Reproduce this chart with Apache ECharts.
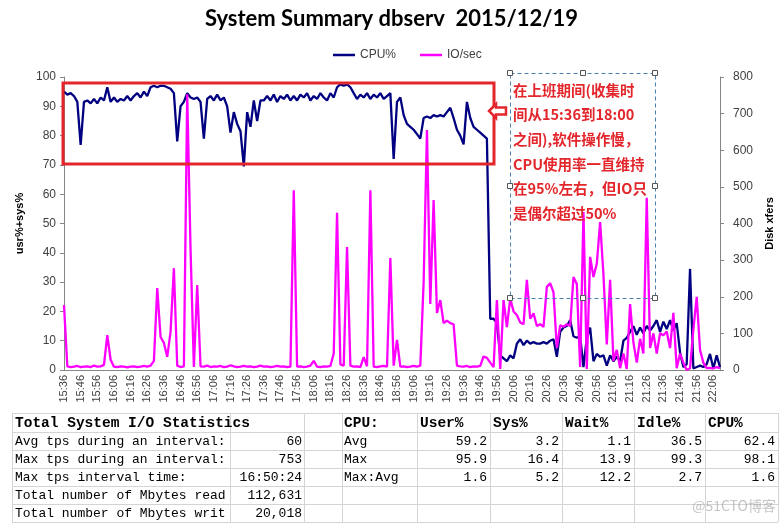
<!DOCTYPE html>
<html><head><meta charset="utf-8">
<script src="https://cdn.jsdelivr.net/npm/echarts@6/dist/echarts.min.js"></script>
<style>html,body{margin:0;padding:0;background:#fff}#c{width:783px;height:523px}</style>
</head><body><div id="c"></div>
<script>
// ---- data (one sample every 2 minutes from 15:36) ----
const startMinute = 15 * 60 + 36;
const stepMinutes = 2;
const cpu = [
  95, 94, 94.5, 93.5, 91.5, 76.8, 91.5, 92, 91, 92.5,
  91, 93, 92, 96.5, 91.5, 93, 91.5, 92.5, 92, 93.5,
  92, 93.5, 94.5, 93, 95, 93.5, 96.5, 97, 96.5, 97,
  97, 96.5, 96, 94.5, 78, 90, 91.5, 94.5, 93, 92.5,
  93, 91.5, 79, 92.5, 93.5, 92, 94, 92, 93, 90,
  81, 88, 84, 81.5, 69.5, 88, 83, 92, 85, 92,
  92, 93.5, 92, 94, 91.5, 93.5, 92.5, 94, 92, 93.5,
  92, 94, 93, 94.5, 92, 93.5, 92.5, 94.5, 93, 92,
  94.5, 93, 96.5, 97.5, 97, 97.5, 96.5, 94.5, 92.5, 94,
  93, 94.5, 92.5, 94, 93, 94.5, 92.5, 93.5, 94.5, 72,
  91.5, 93, 87, 84, 83, 82, 80.5, 79, 86, 86.5,
  86, 87, 86.5, 87, 86.5, 88, 89.5, 86, 82, 80,
  77, 91.5, 86, 83, 82, 81, 80, 79, 17.5, 17.5,
  16, 5, 4, 3, 5, 4, 9, 10.5, 8.5, 10,
  9, 9.5, 9, 9, 9.5, 9, 10, 10.5, 4.5, 13,
  14.5, 15, 17, 11.5, 11, 11.5, 1, 11, 14.5, 3,
  5.5, 4.5, 5, 1.5, 5, 3, 4.5, 3, 10, 11,
  13, 15, 12, 14.5, 12.5, 15, 13.5, 15, 17, 13,
  16.5, 14, 17, 13.5, 16, 6, 1, 2, 34.5, 0.5,
  1, 1.5, 1, 2, 5.5, 0.5, 5, 1
];
const io = [
  177, 10, 8, 9, 11, 8, 9, 10, 8, 12,
  9, 10, 14, 95, 28, 9, 8, 10, 9, 7,
  9, 10, 8, 9, 11, 9, 12, 25, 224, 90,
  74, 36, 104, 278, 12, 8, 10, 753, 330, 8,
  232, 10, 9, 12, 8, 10, 9, 11, 8, 9,
  13, 10, 8, 9, 11, 9, 10, 8, 9, 12,
  9, 10, 8, 9, 11, 9, 10, 8, 9, 491,
  9, 10, 8, 9, 12, 25, 9, 8, 10, 9,
  11, 45, 429, 15, 12, 336, 12, 9, 10, 8,
  35, 10, 491, 9, 8, 10, 11, 9, 306, 12,
  82, 9, 10, 8, 9, 11, 9, 12, 240, 655,
  180, 464, 156, 191, 128, 135, 128, 125, 12, 10,
  9, 11, 8, 10, 9, 11, 37, 33, 20, 8,
  191, 3, 191, 117, 195, 160, 150, 130, 125, 246,
  140, 155, 120, 125, 118, 227, 237, 212, 60, 122,
  118, 125, 120, 254, 235, 8, 431, 3, 309, 254,
  290, 404, 260, 70, 246, 25, 55, 5, 45, 3,
  180, 75, 20, 85, 45, 470, 60, 100, 45, 100,
  95, 105, 60, 156, 5, 45, 20, 0, 5, 110,
  200, 55, 20, 5, 6, 4, 8, 5
];
const categories = cpu.map((_, i) => {
  const m = startMinute + i * stepMinutes;
  return String(Math.floor(m / 60)).padStart(2, '0') + ':' + String(m % 60).padStart(2, '0');
});
const seriesNames = ['CPU%', 'IO/sec'];
const chartTitle = 'System Summary dbserv  2015/12/19';
const leftAxisName = 'usr%+sys%';
const rightAxisName = 'Disk xfers';
const noteLines = ['在上班期间(收集时', '间从15:36到18:00', '之间),软件操作慢，', 'CPU使用率一直维持', '在95%左右，但IO只', '是偶尔超过50%'];
const ioStatTitle = 'Total System I/O Statistics';
const ioStatLabels = ['Avg tps during an interval:', 'Max tps during an interval:', 'Max tps interval time:', 'Total number of Mbytes read', 'Total number of Mbytes written'];
const ioStatValues = ['60', '753', '16:50:24', '112,631', '20,018'];
const cpuStatTitle = 'CPU:';
const cpuStatCols = ['User%', 'Sys%', 'Wait%', 'Idle%', 'CPU%'];
const cpuStatRows = ['Avg', 'Max', 'Max:Avg'];
const cpuAvg = [59.2, 3.2, 1.1, 36.5, 62.4];
const cpuMax = [95.9, 16.4, 13.9, 99.3, 98.1];
const cpuMaxAvg = [1.6, 5.2, 12.2, 2.7, 1.6];
const watermark = '@51CTO博客';

// ---- layout / drawing ----
const chart = echarts.init(document.getElementById('c'), null, {renderer: 'canvas'});
const axisGray = '#868686';
const labelGray = '#404040';
const red = '#e3262b';
const mono = '"Liberation Mono", "DejaVu Sans Mono", monospace';
const cjk = '"Noto Sans CJK SC", sans-serif';

const g = [];
// red highlight box
g.push({type: 'rect', shape: {x: 63, y: 83, width: 431, height: 81}, style: {fill: 'none', stroke: red, lineWidth: 3}, z: 100});
// arrow
g.push({type: 'polygon', shape: {points: [[489, 111], [496, 104], [496, 107.5], [506, 107.5], [506, 114.5], [496, 114.5], [496, 118]]}, style: {fill: '#fff', stroke: red, lineWidth: 2.5}, z: 100});
// dashed text box
g.push({type: 'rect', shape: {x: 510.5, y: 73.5, width: 145, height: 225}, style: {fill: 'none', stroke: '#4a7fb0', lineWidth: 1, lineDash: [4, 3]}, z: 100});
[[510, 73], [583, 73], [655, 73], [510, 186], [655, 186], [510, 298], [583, 298], [655, 298]].forEach(p => {
  g.push({type: 'rect', shape: {x: p[0] - 2.5, y: p[1] - 2.5, width: 5, height: 5}, style: {fill: '#fff', stroke: '#555', lineWidth: 1}, z: 101});
});
noteLines.forEach((t, i) => {
  g.push({type: 'text', x: 513, y: 90 + i * 24.7, style: {text: t, font: 'bold 14.5px ' + cjk, fill: red, verticalAlign: 'middle', align: 'left'}, z: 102});
});

// table grid
const rowY = [413, 432, 450, 468, 486, 504, 522];
const colX = [12, 230, 304, 342, 417, 490, 562, 634, 705, 778];
rowY.forEach(y => g.push({type: 'line', shape: {x1: 12, y1: y + 0.5, x2: 778, y2: y + 0.5}, style: {stroke: '#d4d4d4', lineWidth: 1}}));
colX.forEach(x => g.push({type: 'line', shape: {x1: x + 0.5, y1: 413, x2: x + 0.5, y2: 522}, style: {stroke: '#d4d4d4', lineWidth: 1}}));
const rowMid = i => (rowY[i] + rowY[i + 1]) / 2 + 0.5;
const txt = (t, x, y, opts) => g.push({type: 'text', x: x, y: y, style: Object.assign({text: t, font: '13px ' + mono, fill: '#000', verticalAlign: 'middle', align: 'left'}, opts || {})});
txt(ioStatTitle, 15, rowMid(0), {font: 'bold 14.5px ' + mono});
ioStatLabels.forEach((t, i) => txt(t, 15, rowMid(i + 1), {width: 215, overflow: 'truncate', ellipsis: ''}));
ioStatValues.forEach((t, i) => txt(t, 302, rowMid(i + 1), {align: 'right'}));
txt(cpuStatTitle, 344, rowMid(0), {font: 'bold 14.5px ' + mono});
cpuStatCols.forEach((t, j) => txt(t, colX[j + 4] + 3, rowMid(0), {font: 'bold 14.5px ' + mono}));
cpuStatRows.forEach((t, i) => txt(t, 344, rowMid(i + 1)));
[cpuAvg, cpuMax, cpuMaxAvg].forEach((arr, i) => arr.forEach((v, j) => txt(v.toFixed(1), colX[j + 5] - 3, rowMid(i + 1), {align: 'right'})));
g.push({type: 'text', x: 776, y: 506, style: {text: watermark, font: '14px ' + cjk, fill: 'rgba(150,150,150,0.55)', align: 'right', verticalAlign: 'middle'}, z: 200});

chart.setOption({
  animation: false,
  backgroundColor: '#fff',
  title: {text: chartTitle, left: 'center', top: 3, textStyle: {fontFamily: 'Lato', fontWeight: 'bold', fontSize: 22, color: '#000'}},
  legend: {data: seriesNames, left: 328, top: 44, icon: 'rect', itemWidth: 22, itemHeight: 2.5, itemGap: 24,
    textStyle: {fontSize: 12, color: labelGray, fontFamily: 'Liberation Sans'}},
  grid: {left: 64, right: 57, top: 77, bottom: 153},
  xAxis: {type: 'category', data: categories, boundaryGap: false,
    axisLine: {lineStyle: {color: axisGray}}, axisTick: {show: false},
    axisLabel: {interval: 4, rotate: 90, fontSize: 11, color: labelGray, margin: 5, fontFamily: 'Liberation Sans'}},
  yAxis: [
    {type: 'value', min: 0, max: 100, interval: 10, position: 'left',
      axisLine: {show: true, lineStyle: {color: axisGray}}, axisTick: {show: true, length: 4, lineStyle: {color: axisGray}},
      splitLine: {show: false}, axisLabel: {color: labelGray, fontSize: 12, margin: 8, fontFamily: 'Liberation Sans'},
      name: leftAxisName, nameLocation: 'middle', nameGap: 38,
      nameTextStyle: {fontWeight: 'bold', fontSize: 11, color: '#000', fontFamily: 'Liberation Sans'}},
    {type: 'value', min: 0, max: 800, interval: 100, position: 'right',
      axisLine: {show: true, lineStyle: {color: axisGray}}, axisTick: {show: true, length: 4, lineStyle: {color: axisGray}},
      splitLine: {show: false}, axisLabel: {color: labelGray, fontSize: 12, margin: 13, fontFamily: 'Liberation Sans'},
      name: rightAxisName, nameLocation: 'middle', nameGap: 44,
      nameTextStyle: {fontWeight: 'bold', fontSize: 11, color: '#000', fontFamily: 'Liberation Sans'}}
  ],
  series: [
    {name: seriesNames[0], type: 'line', data: cpu, yAxisIndex: 0, symbol: 'none', z: 2,
      lineStyle: {color: '#000080', width: 2.3}, itemStyle: {color: '#000080'}},
    {name: seriesNames[1], type: 'line', data: io, yAxisIndex: 1, symbol: 'none', z: 3,
      lineStyle: {color: '#ff00ff', width: 2.3}, itemStyle: {color: '#ff00ff'}}
  ],
  graphic: g
});
</script></body></html>
